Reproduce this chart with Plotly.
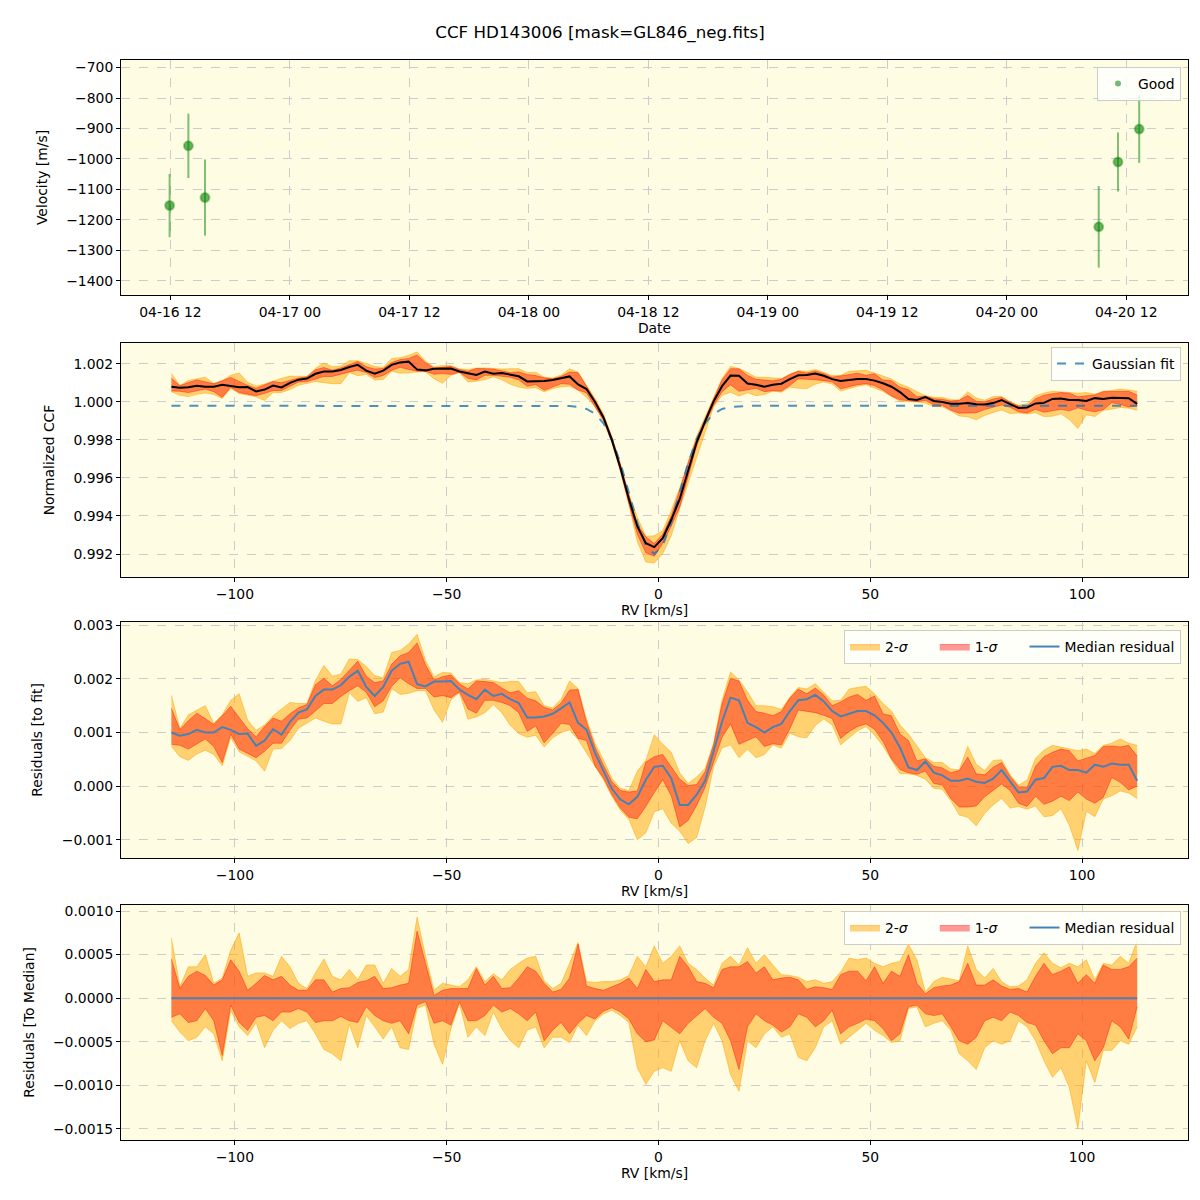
import numpy as np
import plotly.graph_objects as go

# --- RV time series (top panel) ---
obs_dates = ["2023-04-16 11:55", "2023-04-16 13:48", "2023-04-16 15:28",
             "2023-04-20 09:14", "2023-04-20 11:10", "2023-04-20 13:18"]
obs_vel = [-1153, -957, -1127, -1223, -1010, -902]
obs_err = [104, 106, 125, 134, 97, 111]

# --- CCF grid (km/s) ---
rv = list(range(-115, 115, 2))

# Gaussian fit to the CCF
gauss_fit = [
    0.99980, 0.99980, 0.99980, 0.99980, 0.99980, 0.99980, 0.99980, 0.99980, 0.99980, 0.99980,
    0.99980, 0.99980, 0.99980, 0.99980, 0.99980, 0.99980, 0.99980, 0.99980, 0.99980, 0.99980,
    0.99980, 0.99980, 0.99980, 0.99980, 0.99980, 0.99980, 0.99980, 0.99980, 0.99980, 0.99980,
    0.99980, 0.99980, 0.99980, 0.99980, 0.99980, 0.99980, 0.99980, 0.99980, 0.99980, 0.99980,
    0.99980, 0.99980, 0.99980, 0.99980, 0.99980, 0.99980,
    0.99979, 0.99978, 0.99974, 0.99963, 0.99938, 0.99888, 0.99804, 0.99679, 0.99523, 0.99365,
    0.99245, 0.99200,
    0.99245, 0.99365, 0.99523, 0.99679, 0.99804, 0.99888, 0.99938, 0.99963, 0.99974, 0.99978,
    0.99979,
    0.99980, 0.99980, 0.99980, 0.99980, 0.99980, 0.99980, 0.99980, 0.99980, 0.99980, 0.99980,
    0.99980, 0.99980, 0.99980, 0.99980, 0.99980, 0.99980, 0.99980, 0.99980, 0.99980, 0.99980,
    0.99980, 0.99980, 0.99980, 0.99980, 0.99980, 0.99980, 0.99980, 0.99980, 0.99980, 0.99980,
    0.99980, 0.99980, 0.99980, 0.99980, 0.99980, 0.99980, 0.99980, 0.99980, 0.99980, 0.99980,
    0.99980, 0.99980, 0.99980, 0.99980, 0.99980, 0.99980,
]

# median residual (CCF - fit)
resid_med = [
    0.00100, 0.00094, 0.00097, 0.00105, 0.00100, 0.00100, 0.00110, 0.00105, 0.00097, 0.00098,
    0.00075, 0.00085, 0.00106, 0.00096, 0.00120, 0.00137, 0.00143, 0.00168, 0.00180, 0.00180,
    0.00188, 0.00204, 0.00215, 0.00185, 0.00168, 0.00185, 0.00215, 0.00228, 0.00232, 0.00190,
    0.00186, 0.00195, 0.00195, 0.00196, 0.00180, 0.00170, 0.00162, 0.00180, 0.00168, 0.00172,
    0.00162, 0.00155, 0.00128, 0.00128, 0.00130, 0.00135, 0.00145, 0.00156, 0.00118, 0.00105,
    0.00062, 0.00030, -0.00005, -0.00025, -0.00034, -0.00020, 0.00012, 0.00036,
    0.00038, 0.00015, -0.00035, -0.00035, -0.00016, 0.00010, 0.00065, 0.00120, 0.00165, 0.00160,
    0.00118, 0.00110, 0.00100, 0.00110, 0.00116, 0.00140, 0.00160, 0.00162, 0.00170, 0.00158,
    0.00140, 0.00130, 0.00135, 0.00140, 0.00140, 0.00132, 0.00118, 0.00100, 0.00072, 0.00035,
    0.00030, 0.00046, 0.00025, 0.00020, 0.00010, 0.00010, 0.00014, 0.00008, 0.00006, 0.00014,
    0.00030, 0.00008, -0.00012, -0.00010, 0.00012, 0.00015, 0.00036, 0.00038, 0.00030, 0.00030,
    0.00025, 0.00040, 0.00036, 0.00042, 0.00040, 0.00040, 0.00010,
]

# percentile offsets relative to the median
hi2 = [
    0.00069, 0.00013, 0.00036, 0.00036, 0.00050, 0.00017, 0.00023, 0.00055, 0.00075, 0.00025,
    0.00029, 0.00029, 0.00025, 0.00048, 0.00036, 0.00017, 0.00011, 0.00029, 0.00045, 0.00025,
    0.00021, 0.00033, 0.00021, 0.00038, 0.00038, 0.00017, 0.00034, 0.00025, 0.00033, 0.00093,
    0.00048, 0.00009, 0.00017, 0.00015, 0.00013, 0.00021, 0.00036, 0.00019, 0.00028, 0.00021,
    0.00033, 0.00040, 0.00046, 0.00048, 0.00020, 0.00011, 0.00017, 0.00040, 0.00064, 0.00019,
    0.00018, 0.00019, 0.00019, 0.00021, 0.00026, 0.00048, 0.00036, 0.00060,
    0.00040, 0.00048, 0.00060, 0.00040, 0.00033, 0.00023, 0.00015, 0.00040, 0.00048, 0.00038,
    0.00058, 0.00040, 0.00050, 0.00038, 0.00027, 0.00026, 0.00024, 0.00019, 0.00021, 0.00017,
    0.00019, 0.00030, 0.00046, 0.00044, 0.00046, 0.00040, 0.00036, 0.00040, 0.00042, 0.00062,
    0.00044, 0.00007, 0.00019, 0.00024, 0.00022, 0.00020, 0.00060, 0.00033, 0.00023, 0.00034,
    0.00019, 0.00013, 0.00014, 0.00021, 0.00040, 0.00052, 0.00040, 0.00035, 0.00040, 0.00036,
    0.00044, 0.00021, 0.00040, 0.00038, 0.00048, 0.00040, 0.00066,
]
hi1 = [
    0.00045, 0.00011, 0.00025, 0.00031, 0.00026, 0.00015, 0.00021, 0.00044, 0.00031, 0.00009,
    0.00017, 0.00026, 0.00021, 0.00025, 0.00015, 0.00009, 0.00009, 0.00021, 0.00021, 0.00007,
    0.00011, 0.00012, 0.00018, 0.00020, 0.00025, 0.00011, 0.00012, 0.00015, 0.00017, 0.00077,
    0.00040, 0.00003, 0.00009, 0.00011, 0.00011, 0.00011, 0.00034, 0.00015, 0.00025, 0.00011,
    0.00012, 0.00023, 0.00036, 0.00031, 0.00017, 0.00007, 0.00010, 0.00023, 0.00062, 0.00014,
    0.00011, 0.00009, 0.00013, 0.00017, 0.00023, 0.00011, 0.00033, 0.00019,
    0.00021, 0.00021, 0.00048, 0.00036, 0.00019, 0.00017, 0.00012, 0.00033, 0.00036, 0.00036,
    0.00042, 0.00029, 0.00036, 0.00021, 0.00023, 0.00024, 0.00021, 0.00010, 0.00013, 0.00012,
    0.00010, 0.00027, 0.00031, 0.00031, 0.00020, 0.00036, 0.00017, 0.00031, 0.00025, 0.00050,
    0.00017, 0.00005, 0.00012, 0.00014, 0.00015, 0.00019, 0.00040, 0.00015, 0.00015, 0.00021,
    0.00014, 0.00010, 0.00011, 0.00007, 0.00025, 0.00040, 0.00027, 0.00031, 0.00036, 0.00017,
    0.00027, 0.00017, 0.00038, 0.00033, 0.00033, 0.00036, 0.00046,
]
lo1 = [
    -0.00022, -0.00018, -0.00028, -0.00026, -0.00012, -0.00026, -0.00066, -0.00008, -0.00028, -0.00037,
    -0.00022, -0.00020, -0.00026, -0.00016, -0.00016, -0.00012, -0.00016, -0.00028, -0.00026, -0.00026,
    -0.00021, -0.00026, -0.00028, -0.00010, -0.00020, -0.00026, -0.00029, -0.00026, -0.00041, -0.00008,
    -0.00004, -0.00029, -0.00026, -0.00031, -0.00004, -0.00026, -0.00026, -0.00020, -0.00008, -0.00016,
    -0.00012, -0.00018, -0.00026, -0.00016, -0.00049, -0.00037, -0.00028, -0.00041, -0.00029, -0.00020,
    -0.00024, -0.00015, -0.00011, -0.00016, -0.00024, -0.00041, -0.00050, -0.00048,
    -0.00026, -0.00033, -0.00041, -0.00029, -0.00020, -0.00012, -0.00022, -0.00029, -0.00049, -0.00082,
    -0.00033, -0.00018, -0.00026, -0.00031, -0.00039, -0.00033, -0.00018, -0.00022, -0.00033, -0.00026,
    -0.00014, -0.00041, -0.00033, -0.00029, -0.00024, -0.00026, -0.00035, -0.00049, -0.00041, -0.00010,
    -0.00008, -0.00018, -0.00020, -0.00018, -0.00033, -0.00049, -0.00053, -0.00045, -0.00026, -0.00022,
    -0.00026, -0.00016, -0.00020, -0.00028, -0.00031, -0.00049, -0.00064, -0.00057, -0.00057, -0.00041,
    -0.00049, -0.00072, -0.00057, -0.00026, -0.00033, -0.00047, -0.00010,
]
lo2 = [
    -0.00026, -0.00039, -0.00049, -0.00045, -0.00033, -0.00041, -0.00072, -0.00014, -0.00033, -0.00043,
    -0.00028, -0.00057, -0.00037, -0.00026, -0.00035, -0.00029, -0.00026, -0.00041, -0.00059, -0.00064,
    -0.00072, -0.00030, -0.00057, -0.00020, -0.00033, -0.00047, -0.00033, -0.00057, -0.00059, -0.00012,
    -0.00008, -0.00053, -0.00076, -0.00035, -0.00006, -0.00045, -0.00033, -0.00043, -0.00016, -0.00035,
    -0.00049, -0.00057, -0.00037, -0.00033, -0.00057, -0.00045, -0.00045, -0.00051, -0.00031, -0.00043,
    -0.00026, -0.00018, -0.00014, -0.00020, -0.00028, -0.00080, -0.00099, -0.00084,
    -0.00080, -0.00084, -0.00049, -0.00072, -0.00080, -0.00049, -0.00029, -0.00049, -0.00088, -0.00107,
    -0.00049, -0.00057, -0.00041, -0.00033, -0.00045, -0.00041, -0.00068, -0.00072, -0.00057, -0.00033,
    -0.00026, -0.00053, -0.00045, -0.00037, -0.00029, -0.00037, -0.00043, -0.00051, -0.00049, -0.00012,
    -0.00010, -0.00033, -0.00029, -0.00026, -0.00037, -0.00064, -0.00072, -0.00082, -0.00057, -0.00049,
    -0.00053, -0.00049, -0.00026, -0.00033, -0.00049, -0.00072, -0.00091, -0.00080, -0.00103, -0.00150,
    -0.00072, -0.00097, -0.00060, -0.00060, -0.00049, -0.00053, -0.00033,
]

fit = np.array(gauss_fit)
res = np.array(resid_med)
ccf_med = fit + res
zero = np.zeros(len(rv))

BG = "#fefce3"
C2 = "rgba(255,165,0,0.5)"
C1 = "rgba(255,0,0,0.4)"
MED = "#4682b4"
FONT = "DejaVu Sans"
FS = 13.9
PAD = "\u00a0" * 5  # widen the short legend entries

# the page body adds an 8px margin, so the figure is laid out in a 1192px box
W = 1192
OFF = 8

fig = go.Figure()


def add_bands(med, xa, ya, leg, show):
    for lo, hi, col, name in [(lo2, hi2, C2, "2-<i>σ</i>" + PAD), (lo1, hi1, C1, "1-<i>σ</i>" + PAD)]:
        fig.add_trace(go.Scatter(x=rv, y=med + np.array(lo), xaxis=xa, yaxis=ya, mode="lines",
                                 line=dict(color=col, width=1), showlegend=False, hoverinfo="skip"))
        fig.add_trace(go.Scatter(x=rv, y=med + np.array(hi), xaxis=xa, yaxis=ya, mode="lines",
                                 line=dict(color=col, width=1), fill="tonexty", fillcolor=col,
                                 name=name, legend=leg, showlegend=show))


# top panel
fig.add_trace(go.Scatter(x=obs_dates, y=obs_vel, mode="markers", xaxis="x", yaxis="y",
                         error_y=dict(type="data", array=obs_err, color="rgba(0,128,0,0.5)",
                                      thickness=2, width=0),
                         marker=dict(size=9, color="rgba(0,128,0,0.6)",
                                     line=dict(color="rgba(0,128,0,0.35)", width=2)),
                         showlegend=False))
fig.add_trace(go.Scatter(x=[None], y=[None], mode="markers", xaxis="x", yaxis="y",
                         marker=dict(size=6, color="rgba(0,128,0,0.55)"),
                         name="Good", legend="legend"))

# CCF panel
add_bands(ccf_med, "x2", "y2", "legend2", False)
fig.add_trace(go.Scatter(x=rv, y=fit, xaxis="x2", yaxis="y2", mode="lines",
                         line=dict(color="rgba(31,119,180,0.8)", width=2, dash="dash"),
                         name="Gaussian fit", legend="legend2"))
fig.add_trace(go.Scatter(x=rv, y=ccf_med, xaxis="x2", yaxis="y2", mode="lines",
                         line=dict(color="black", width=2), showlegend=False))

# residuals to fit
add_bands(res, "x3", "y3", "legend3", True)
fig.add_trace(go.Scatter(x=rv, y=res, xaxis="x3", yaxis="y3", mode="lines",
                         line=dict(color=MED, width=2), name="Median residual", legend="legend3"))

# residuals to median
add_bands(zero, "x4", "y4", "legend4", True)
fig.add_trace(go.Scatter(x=rv, y=zero, xaxis="x4", yaxis="y4", mode="lines",
                         line=dict(color=MED, width=2), name="Median residual", legend="legend4"))

ax = dict(showline=True, linecolor="black", linewidth=1, mirror=True, ticks="outside",
          ticklen=4, tickcolor="black", showgrid=True, gridcolor="#cccccc", griddash="dash",
          gridwidth=1, zeroline=False, automargin=False, tickfont=dict(size=FS, color="black"),
          title_font=dict(size=FS, color="black"))


def px_x(p):
    return (p - OFF) / W


def px_y(p):
    return 1 - (p - OFF) / W


xdom = [px_x(121), px_x(1188)]


def ydom(top, bottom):
    return [px_y(bottom), px_y(top)]


rv_axis = dict(ax, range=[-126.9, 125.0], tick0=0, dtick=50, title_text="RV [km/s]",
               title_standoff=4)
leg = dict(xanchor="right", x=px_x(1181), yanchor="top", bgcolor="rgba(255,255,255,0.8)",
           bordercolor="#cccccc", borderwidth=1, traceorder="normal",
           font=dict(size=FS, color="black", family=FONT))

fig.update_layout(
    width=W, height=W,
    margin=dict(l=0, r=0, t=0, b=0, autoexpand=False),
    paper_bgcolor="white", plot_bgcolor=BG,
    font=dict(family=FONT, size=FS, color="black"),
    title=dict(text="CCF HD143006 [mask=GL846_neg.fits]", x=0.5 - OFF / 2 / W, xanchor="center",
               y=px_y(32), yanchor="middle", font=dict(size=16.7, color="black")),
    xaxis=dict(ax, domain=xdom, anchor="y", type="date",
               range=["2023-04-16 07:02", "2023-04-20 18:12"],
               tick0="2023-04-16 00:00", dtick=43200000, tickformat="%m-%d %H",
               title_text="Date", title_standoff=4),
    yaxis=dict(ax, domain=ydom(60, 295), anchor="x", range=[-1447, -675], dtick=100,
               title_text="Velocity [m/s]"),
    xaxis2=dict(rv_axis, domain=xdom, anchor="y2"),
    yaxis2=dict(ax, domain=ydom(343, 577), anchor="x2", range=[0.99079, 1.0031],
                dtick=0.002, tickformat=".3f", title_text="Normalized CCF"),
    xaxis3=dict(rv_axis, domain=xdom, anchor="y3"),
    yaxis3=dict(ax, domain=ydom(622, 858), anchor="x3", range=[-0.00134, 0.00306],
                dtick=0.001, tickformat=".3f", title_text="Residuals [to fit]"),
    xaxis4=dict(rv_axis, domain=xdom, anchor="y4"),
    yaxis4=dict(ax, domain=ydom(905, 1140), anchor="x4", range=[-0.00163, 0.00107],
                dtick=0.0005, tickformat=".4f", title_text="Residuals [To Median]"),
    legend=dict(leg, y=px_y(67)),
    legend2=dict(leg, y=px_y(347)),
    legend3=dict(leg, y=px_y(630), orientation="h"),
    legend4=dict(leg, y=px_y(911), orientation="h"),
)

fig.write_html("out.html")
